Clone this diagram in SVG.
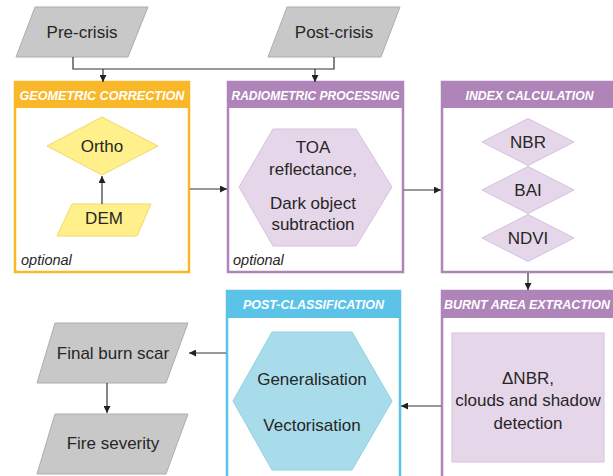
<svg xmlns="http://www.w3.org/2000/svg" width="613" height="476" viewBox="0 0 613 476">
<defs>
<marker id="ah" viewBox="0 0 10 10" refX="10" refY="5" markerWidth="7" markerHeight="7" markerUnits="userSpaceOnUse" orient="auto">
<path d="M0,0 L10,5 L0,10 z" fill="#222"/>
</marker>
<style>
.t{font-family:"Liberation Sans",Arial,sans-serif;font-size:17px;fill:#262626;text-anchor:middle}
.h{font-family:"Liberation Sans",Arial,sans-serif;font-size:12.6px;font-weight:bold;font-style:italic;fill:#fff;text-anchor:middle}
.opt{font-family:"Liberation Sans",Arial,sans-serif;font-size:14.5px;font-style:italic;fill:#262626}
.grey{fill:#c8c8c8;stroke:#adadad;stroke-width:1}
.yel{fill:#fff08c;stroke:#f3d866;stroke-width:1}
.lp{fill:#e6d6ea;stroke:#d6c2dc;stroke-width:1}
.lb{fill:#a9dcea;stroke:#8fd0e3;stroke-width:1}
.c{fill:none;stroke:#333;stroke-width:1.2}
</style>
</defs>
<rect width="613" height="476" fill="#fff"/>

<g id="pre-crisis">
<polygon class="grey" points="35,7 148,7 128,57 16,57"/>
<text class="t" x="82" y="38" font-size="16.5">Pre-crisis</text>
</g>
<g id="post-crisis">
<polygon class="grey" points="287,7 400,7 381,57 268,57"/>
<text class="t" x="334" y="38" font-size="16.5">Post-crisis</text>
</g>

<g id="geometric-correction">
<rect x="15" y="82" width="174" height="190" fill="#fff" stroke="#f9b82a" stroke-width="2.5"/>
<rect x="15" y="82" width="174" height="26" fill="#f9b82a"/>
<text class="h" x="102" y="100" textLength="165" lengthAdjust="spacingAndGlyphs">GEOMETRIC CORRECTION</text>
<g id="ortho">
<polygon class="yel" points="47,146 102,117 158,146 102,175"/>
<text class="t" x="102" y="152" font-size="18">Ortho</text>
</g>
<g id="dem">
<polygon class="yel" points="72,204 151,204 137,236 57,236"/>
<text class="t" x="104" y="224">DEM</text>
</g>
<text class="opt" x="21" y="265">optional</text>
</g>

<g id="radiometric-processing">
<rect x="228" y="82" width="175" height="190" fill="#fff" stroke="#ae84b9" stroke-width="2.5"/>
<rect x="228" y="82" width="175" height="26" fill="#ae84b9"/>
<text class="h" x="315.5" y="100" textLength="168" lengthAdjust="spacingAndGlyphs">RADIOMETRIC PROCESSING</text>
<polygon class="lp" points="239,187 273,129 356,129 392,187 356,246 273,246"/>
<text class="t" x="313" y="153">TOA</text>
<text class="t" x="313" y="175">reflectance,</text>
<text class="t" x="313" y="209">Dark object</text>
<text class="t" x="313" y="230">subtraction</text>
<text class="opt" x="233" y="265">optional</text>
</g>

<g id="index-calculation">
<rect x="442" y="82" width="175" height="190" fill="#fff" stroke="#ae84b9" stroke-width="2.5"/>
<rect x="442" y="82" width="175" height="26" fill="#ae84b9"/>
<text class="h" x="529.5" y="100" textLength="128" lengthAdjust="spacingAndGlyphs">INDEX CALCULATION</text>
<g id="nbr">
<polygon class="lp" points="482,142 528,118.5 574,142 528,165.5"/>
<text class="t" x="528" y="148">NBR</text>
</g>
<g id="bai">
<polygon class="lp" points="482,190 528,166.5 574,190 528,213.5"/>
<text class="t" x="528" y="196">BAI</text>
</g>
<g id="ndvi">
<polygon class="lp" points="482,238 528,214.5 574,238 528,261.5"/>
<text class="t" x="528" y="244">NDVI</text>
</g>
</g>

<g id="burnt-area-extraction">
<rect x="442" y="291" width="175" height="200" fill="#fff" stroke="#ae84b9" stroke-width="2.5"/>
<rect x="442" y="291" width="175" height="27" fill="#ae84b9"/>
<text class="h" x="527" y="309" textLength="166" lengthAdjust="spacingAndGlyphs">BURNT AREA EXTRACTION</text>
<rect class="lp" x="452" y="333" width="152" height="129"/>
<text class="t" x="528" y="384">ΔNBR,</text>
<text class="t" x="528" y="406">clouds and shadow</text>
<text class="t" x="528" y="429">detection</text>
</g>

<g id="post-classification">
<rect x="227" y="291" width="173" height="200" fill="#fff" stroke="#5bc3e8" stroke-width="2.5"/>
<rect x="227" y="291" width="173" height="27" fill="#5bc3e8"/>
<text class="h" x="313.5" y="309" textLength="141" lengthAdjust="spacingAndGlyphs">POST-CLASSIFICATION</text>
<polygon class="lb" points="233,401 272,332 352,332 392,401 352,470 272,470"/>
<text class="t" x="312" y="385">Generalisation</text>
<text class="t" x="312" y="431">Vectorisation</text>
</g>

<g id="final-burn-scar">
<polygon class="grey" points="55,323 188,323 166,383 37,383"/>
<text class="t" x="113" y="359" font-size="18">Final burn scar</text>
</g>
<g id="fire-severity">
<polygon class="grey" points="55,414 188,414 166,474 37,474"/>
<text class="t" x="113" y="449" font-size="18">Fire severity</text>
</g>

<g id="connectors">
<polyline class="c" points="73,57 73,69 334,69 334,57"/>
<line class="c" x1="103" y1="69" x2="103" y2="82" marker-end="url(#ah)"/>
<line class="c" x1="315" y1="69" x2="315" y2="82" marker-end="url(#ah)"/>
<line class="c" x1="102" y1="204" x2="102" y2="176" marker-end="url(#ah)"/>
<line class="c" x1="190" y1="189" x2="227" y2="189" marker-end="url(#ah)"/>
<line class="c" x1="404" y1="190" x2="441" y2="190" marker-end="url(#ah)"/>
<line class="c" x1="528" y1="273" x2="528" y2="290" marker-end="url(#ah)"/>
<line class="c" x1="441" y1="406" x2="401" y2="406" marker-end="url(#ah)"/>
<line class="c" x1="226" y1="353" x2="189" y2="353" marker-end="url(#ah)"/>
<line class="c" x1="107" y1="383" x2="107" y2="413" marker-end="url(#ah)"/>
</g>
</svg>
